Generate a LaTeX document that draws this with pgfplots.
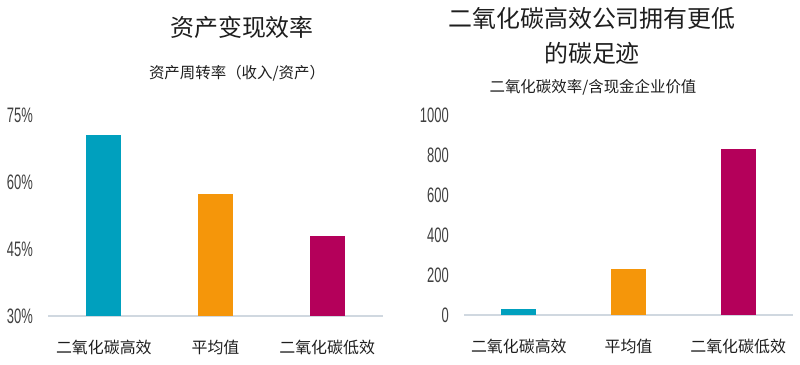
\documentclass[border=0pt]{standalone}
\usepackage{fontspec}
\usepackage{pgfplots}
\pgfplotsset{compat=1.18}
\newfontfamily\cjk{Noto Sans CJK SC}
\newfontfamily\tickfont[FakeStretch=0.62]{Liberation Sans}
\definecolor{cteal}{RGB}{0,160,190}
\definecolor{corange}{RGB}{245,150,10}
\definecolor{cmag}{RGB}{180,0,90}
\definecolor{axcol}{RGB}{208,216,224}
\definecolor{tickcol}{RGB}{64,64,64}
\definecolor{txtcol}{RGB}{30,30,30}
\pgfplotsset{
  mybar/.style={
    scale only axis,
    axis lines*=left,
    x axis line style={draw=axcol, line width=1.2pt},
    y axis line style={draw=none},
    tick style={draw=none},
    major tick length=0pt,
    ybar, bar width=35bp, bar shift=0pt,
    xmin=-0.5, xmax=2.5,
    xtick={0,1,2},
    xticklabels={二氧化碳高效,平均值,二氧化碳低效},
    xticklabel style={font=\cjk\fontsize{16}{16}\selectfont, text=txtcol, inner sep=0pt, anchor=center, yshift=-31bp},
    yticklabel style={font=\tickfont\fontsize{21}{21}\selectfont, text=tickcol, inner sep=0pt, anchor=east, xshift=-15bp},
    every axis plot/.append style={draw=none},
  }
}
\begin{document}
\begin{tikzpicture}[x=1bp,y=1bp]
\useasboundingbox (0,0) rectangle (800,364);
% left panel
\begin{axis}[mybar, at={(48bp,48bp)}, anchor=south west, width=335bp, height=201bp,
  ymin=30, ymax=75, ytick={30,45,60,75}, yticklabels={30\%,45\%,60\%,75\%}]
\addplot[fill=cteal] coordinates {(0,70.6)};
\addplot[fill=corange] coordinates {(1,57.3)};
\addplot[fill=cmag] coordinates {(2,48.0)};
\end{axis}
% right panel
\begin{axis}[mybar, at={(464bp,49bp)}, anchor=south west, width=329bp, height=200bp,
  ymin=0, ymax=1000, ytick={0,200,400,600,800,1000}, yticklabels={0,200,400,600,800,1000}]
\addplot[fill=cteal] coordinates {(0,30)};
\addplot[fill=corange] coordinates {(1,228)};
\addplot[fill=cmag] coordinates {(2,830)};
\end{axis}
\node[font=\cjk\fontsize{24}{24}\selectfont, text=txtcol] at (242,337) {资产变现效率};
\node[font=\cjk\fontsize{15.5}{15.5}\selectfont, text=txtcol] at (237,291) {资产周转率（收入/资产）};
\node[font=\cjk\fontsize{24}{24}\selectfont, text=txtcol] at (592,346) {二氧化碳高效公司拥有更低};
\node[font=\cjk\fontsize{24}{24}\selectfont, text=txtcol] at (592,311) {的碳足迹};
\node[font=\cjk\fontsize{15.5}{15.5}\selectfont, text=txtcol] at (593,277) {二氧化碳效率/含现金企业价值};
\end{tikzpicture}
\end{document}
